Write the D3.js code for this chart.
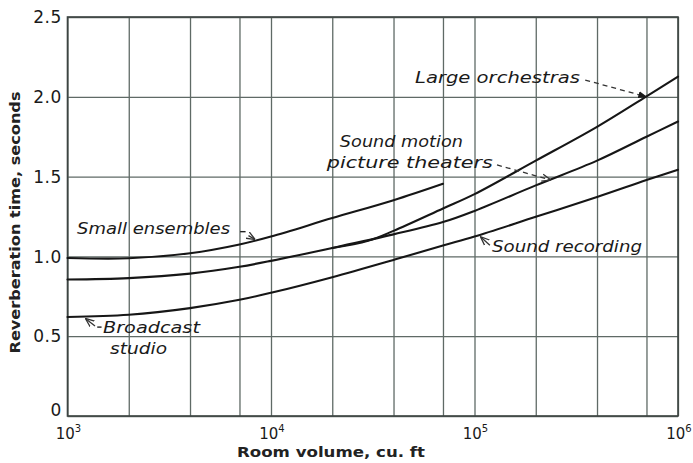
<!DOCTYPE html>
<html>
<head>
<meta charset="utf-8">
<script src="https://cdn.jsdelivr.net/npm/d3@7/dist/d3.min.js"></script>
<style>
  html, body { margin: 0; padding: 0; background: #fff; }
  svg { display: block; }
</style>
</head>
<body>
<svg id="chart" width="693" height="463"></svg>
<script>
// ---- data ----
const volumeGrid = [1e3, 2e3, 4e3, 7e3, 1e4, 2e4, 4e4, 7e4, 1e5, 2e5, 4e5, 7e5, 1e6];
const xTickExponents = [3, 4, 5, 6];
const yTicks = [0, 0.5, 1.0, 1.5, 2.0, 2.5];
const yTickLabels = ["0", "0.5", "1.0", "1.5", "2.0", "2.5"];

const smallEnsembles = [
  [1e3, 0.99], [2e3, 0.988], [4e3, 1.02], [7e3, 1.075], [1e4, 1.125],
  [2e4, 1.24], [4e4, 1.352], [7e4, 1.455]
];
const motionPicture = [
  [1e3, 0.855], [2e3, 0.864], [4e3, 0.892], [7e3, 0.935], [1e4, 0.972],
  [2e4, 1.053], [4e4, 1.138], [7e4, 1.215], [1e5, 1.285], [2e5, 1.445],
  [4e5, 1.600], [7e5, 1.750], [1e6, 1.845]
];
const largeOrchestras = [
  [2e4, 1.053], [3e4, 1.098], [4e4, 1.16], [7e4, 1.30], [1e5, 1.39],
  [2e5, 1.600], [4e5, 1.812], [7e5, 2.003], [1e6, 2.126]
];
const broadcastRecording = [
  [1e3, 0.62], [2e3, 0.634], [4e3, 0.676], [7e3, 0.728], [1e4, 0.772],
  [2e4, 0.870], [4e4, 0.978], [7e4, 1.068], [1e5, 1.124], [2e5, 1.248],
  [4e5, 1.372], [7e5, 1.478], [1e6, 1.543]
];
const seriesList = [smallEnsembles, motionPicture, largeOrchestras, broadcastRecording];

// labels placed in data coordinates: [volume, seconds, text, width]
const labelTexts = [
  [1114, 1.14, "Small ensembles", 153],
  [51000, 2.086, "Large orchestras", 165],
  [21800, 1.685, "Sound motion", 123],
  [18800, 1.554, "picture theaters", 166],
  [121900, 1.028, "Sound recording", 150],
  [1494, 0.52, "Broadcast", 97],
  [1618, 0.388, "studio", 57]
];

// ---- layout ----
const svg = d3.select("#chart");
const x = d3.scaleLog().domain([1e3, 1e6]).range([67.5, 678]);
const y = d3.scaleLinear().domain([0, 2.5]).range([416, 17]);
const gridColor = "#5f6a66";

// grid via axes
svg.append("g")
  .attr("transform", `translate(0,${y(0)})`)
  .call(d3.axisBottom(x).tickValues(volumeGrid).tickSize(-(y(0) - y(2.5))).tickFormat(""))
  .call(g => g.select(".domain").remove())
  .call(g => g.selectAll(".tick line").attr("stroke", gridColor).attr("stroke-width", 1.3));

svg.append("g")
  .attr("transform", `translate(${x(1e3)},0)`)
  .call(d3.axisLeft(y).tickValues(yTicks).tickSize(-(x(1e6) - x(1e3))).tickFormat(""))
  .call(g => g.select(".domain").remove())
  .call(g => g.selectAll(".tick line").attr("stroke", gridColor).attr("stroke-width", 1.3));

// frame
svg.append("rect")
  .attr("x", x(1e3)).attr("y", y(2.5))
  .attr("width", x(1e6) - x(1e3)).attr("height", y(0) - y(2.5))
  .attr("fill", "none").attr("stroke", "#3d4442").attr("stroke-width", 1.6);

// curves
const line = d3.line()
  .x(d => x(d[0])).y(d => y(d[1]))
  .curve(d3.curveCatmullRom.alpha(0.5));
svg.append("g").selectAll("path").data(seriesList).join("path")
  .attr("d", line)
  .attr("fill", "none").attr("stroke", "#161616").attr("stroke-width", 2.1)
  .attr("stroke-linecap", "round");

// y tick labels
svg.append("g").selectAll("text").data(yTicks).join("text")
  .attr("x", 62)
  .attr("y", d => d === 0 ? y(d) - 6 : y(d))
  .attr("dy", "0.36em")
  .attr("text-anchor", "end")
  .attr("font-family", "DejaVu Sans, sans-serif")
  .attr("font-size", 17)
  .attr("letter-spacing", 0.6)
  .attr("fill", "#1a1a1a")
  .text((d, i) => yTickLabels[i]);

// x tick labels 10^n
const xl = svg.append("g").selectAll("text").data(xTickExponents).join("text")
  .attr("x", d => x(Math.pow(10, d)) + 1)
  .attr("y", 439)
  .attr("text-anchor", "middle")
  .attr("font-family", "DejaVu Sans, sans-serif")
  .attr("font-size", 15)
  .attr("fill", "#1a1a1a");
xl.append("tspan").text("10");
xl.append("tspan").attr("dy", -7).attr("font-size", 10).text(d => String(d));

// axis titles
svg.append("text")
  .attr("x", 237).attr("y", 457)
  .attr("font-family", "DejaVu Sans, sans-serif")
  .attr("font-size", 14).attr("font-weight", "bold")
  .attr("textLength", 188).attr("lengthAdjust", "spacingAndGlyphs")
  .attr("fill", "#222")
  .text("Room volume, cu. ft");

svg.append("text")
  .attr("transform", `translate(20,${(y(0) + y(2.5)) / 2 + 6}) rotate(-90)`)
  .attr("text-anchor", "middle")
  .attr("font-family", "DejaVu Sans, sans-serif")
  .attr("font-size", 14).attr("font-weight", "bold")
  .attr("textLength", 262).attr("lengthAdjust", "spacingAndGlyphs")
  .attr("fill", "#222")
  .text("Reverberation time, seconds");

// annotation labels
svg.append("g").selectAll("text").data(labelTexts).join("text")
  .attr("x", d => x(d[0])).attr("y", d => y(d[1]))
  .attr("font-family", "DejaVu Sans, sans-serif")
  .attr("font-style", "italic")
  .attr("font-size", 15)
  .attr("textLength", d => d[3]).attr("lengthAdjust", "spacingAndGlyphs")
  .attr("fill", "#1a1a1a")
  .text(d => d[2]);

// arrows (data coordinates: from, to)
const defs = svg.append("defs");
defs.append("marker").attr("id", "headFill")
  .attr("viewBox", "0 0 10 10").attr("refX", 9).attr("refY", 5)
  .attr("markerWidth", 9).attr("markerHeight", 9).attr("markerUnits", "userSpaceOnUse")
  .attr("orient", "auto")
  .append("path").attr("d", "M0,1 L10,5 L0,9 Z").attr("fill", "#1a1a1a");
defs.append("marker").attr("id", "headOpen")
  .attr("viewBox", "0 0 10 10").attr("refX", 9).attr("refY", 5)
  .attr("markerWidth", 9).attr("markerHeight", 9).attr("markerUnits", "userSpaceOnUse")
  .attr("orient", "auto")
  .append("path").attr("d", "M0,1 L10,5 L0,9").attr("fill", "none")
  .attr("stroke", "#333").attr("stroke-width", 1.4);

const arrows = [
  { from: [350000, 2.105], to: [7e5, 2.0], dash: "5,4", head: "headFill" },
  { from: [129000, 1.573], to: [235000, 1.48], dash: "5,4", head: "headOpen" },
  { from: [119000, 1.07], to: [107700, 1.12], dash: null, head: "headOpen" },
  { from: [7750, 1.13], to: [8300, 1.108], dash: null, head: "headOpen" },
  { from: [1365, 0.564], to: [1233, 0.608], dash: null, head: "headOpen" }
];
svg.append("g").selectAll("line").data(arrows).join("line")
  .attr("x1", d => x(d.from[0])).attr("y1", d => y(d.from[1]))
  .attr("x2", d => x(d.to[0])).attr("y2", d => y(d.to[1]))
  .attr("stroke", "#333").attr("stroke-width", 1.3)
  .attr("stroke-dasharray", d => d.dash)
  .attr("marker-end", d => `url(#${d.head})`);

// short dashes after/before labels
const dashes = [
  [[7050, 1.155], [7500, 1.155]],
  [[1400, 0.557], [1470, 0.557]]
];
svg.append("g").selectAll("line").data(dashes).join("line")
  .attr("x1", d => x(d[0][0])).attr("y1", d => y(d[0][1]))
  .attr("x2", d => x(d[1][0])).attr("y2", d => y(d[1][1]))
  .attr("stroke", "#222").attr("stroke-width", 1.4);
</script>
</body>
</html>
